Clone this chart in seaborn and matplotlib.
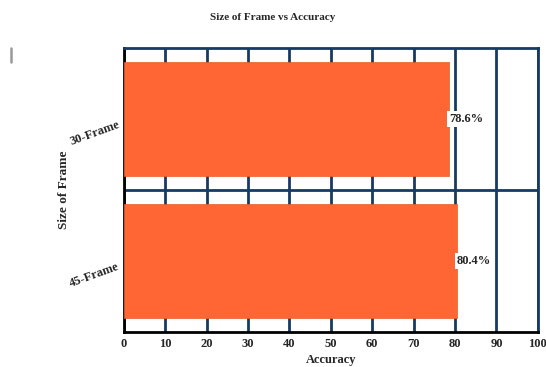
import matplotlib
matplotlib.use("Agg")
import matplotlib.pyplot as plt
import seaborn as sns
import pandas as pd
from matplotlib.lines import Line2D

categories = ["30-Frame", "45-Frame"]
accuracy = [78.6, 80.4]
x_ticks = [0, 10, 20, 30, 40, 50, 60, 70, 80, 90, 100]

sns.set_theme(style="white")
plt.rcParams["font.family"] = ["Liberation Serif", "DejaVu Serif"]
plt.rcParams["font.weight"] = "bold"

df = pd.DataFrame({"Size of Frame": categories, "Accuracy": accuracy})

fig = plt.figure(figsize=(5.46, 3.67), dpi=100)
ax = fig.add_axes([0.227, 0.095, 0.758, 0.774])

grid_color = "#173a63"

sns.barplot(data=df, y="Size of Frame", x="Accuracy", orient="h",
            color="#ff6633", saturation=1, width=0.8, ax=ax, zorder=3,
            edgecolor="#e85a2a", linewidth=0.5)

ax.set_xlim(0, 100)
ax.set_ylim(1.5, -0.5)
ax.set_xticks(x_ticks)
ax.set_xticklabels([str(t) for t in x_ticks], fontsize=9, fontweight="bold")
ax.set_yticks(range(len(categories)))
ax.set_yticklabels(categories, rotation=20, fontsize=9, fontweight="bold",
                   va="top", ha="right", rotation_mode="anchor")
ax.set_yticks([0.5], minor=True)
ax.tick_params(axis="y", which="major", length=0, pad=5)
ax.tick_params(axis="y", which="minor", length=3, width=1, color="#333333")
ax.tick_params(axis="x", which="major", length=3, width=1, color="#333333", pad=1)

ax.xaxis.grid(True, which="major", color=grid_color, linewidth=2, zorder=1)
ax.yaxis.grid(True, which="minor", color=grid_color, linewidth=2, zorder=1)
ax.set_axisbelow(True)

for side in ["top", "right"]:
    ax.spines[side].set_color(grid_color)
    ax.spines[side].set_linewidth(2)
for side in ["left", "bottom"]:
    ax.spines[side].set_color("black")
    ax.spines[side].set_linewidth(2)

for i, v in enumerate(accuracy):
    ax.text(v, i, f"{v}%", va="center", ha="left", fontsize=9,
            fontweight="bold", zorder=5,
            bbox=dict(facecolor="white", edgecolor="none", pad=1.5))

ax.set_xlabel("Accuracy", fontsize=9, fontweight="bold", labelpad=3)
ax.set_ylabel("Size of Frame", fontsize=9.5, fontweight="bold")
ax.yaxis.set_label_coords(-0.13, 0.5)
fig.suptitle("Size of Frame vs Accuracy", fontsize=8, fontweight="bold", y=0.965)

fig.add_artist(Line2D([0.02, 0.02], [0.83, 0.87], color="#999999", linewidth=1.8,
                      transform=fig.transFigure))

fig.savefig("out.png", dpi=100)
